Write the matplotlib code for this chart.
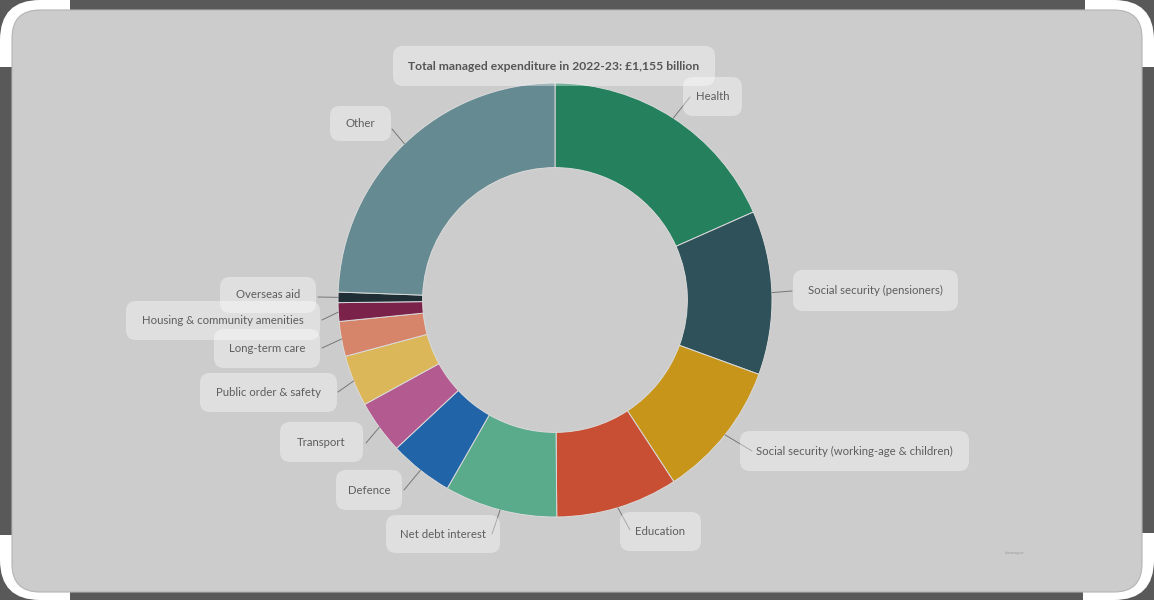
import numpy as np
import matplotlib
matplotlib.use("Agg")
import matplotlib.pyplot as plt
from matplotlib.patches import FancyBboxPatch, Rectangle, ConnectionPatch

plt.rcParams['font.family'] = ['Lato', 'DejaVu Sans']

# ---------------- data (GBP billion) ----------------
title = "Total managed expenditure in 2022-23: £1,155 billion"
categories = [
    "Health",
    "Social security (pensioners)",
    "Social security (working-age & children)",
    "Education",
    "Net debt interest",
    "Defence",
    "Transport",
    "Public order & safety",
    "Long-term care",
    "Housing & community amenities",
    "Overseas aid",
    "Other",
]
values = [212, 141, 118, 105, 97, 55, 46, 44, 30, 16, 9, 282]
colors = [
    "#25805e", "#2f525a", "#c8951b", "#c84f33", "#5aab8b", "#2264a8",
    "#b35a90", "#dcb75a", "#d7856a", "#7a2249", "#1f2e34", "#668a91",
]

# ---------------- layout (pixel coordinates, y down) ----------------
W, H = 1154, 600
CX, CY, R = 555, 300, 217
# label boxes: (x0, y0, x1, y1)
boxes = {
    "Health": (683, 77, 742, 116),
    "Social security (pensioners)": (793, 270, 958, 311),
    "Social security (working-age & children)": (740, 431, 969, 471),
    "Education": (620, 512, 701, 551),
    "Net debt interest": (386, 515, 500, 553),
    "Defence": (336, 470, 402, 510),
    "Transport": (280, 422, 363, 462),
    "Public order & safety": (200, 373, 337, 412),
    "Long-term care": (214, 329, 320, 368),
    "Housing & community amenities": (126, 301, 320, 340),
    "Overseas aid": (220, 277, 316, 313),
    "Other": (330, 106, 391, 141),
}
# leader-line end point near each label
leader_end = {
    "Health": (690, 97),
    "Social security (pensioners)": (792, 291),
    "Social security (working-age & children)": (752, 451),
    "Education": (630, 530),
    "Net debt interest": (492, 534),
    "Defence": (404, 490),
    "Transport": (366, 443),
    "Public order & safety": (338, 392),
    "Long-term care": (322, 348),
    "Housing & community amenities": (322, 320),
    "Overseas aid": (318, 297),
    "Other": (392, 129),
}
title_box = (393, 46, 715, 86)

fig = plt.figure(figsize=(W / 100, H / 100), dpi=100)
fig.patch.set_facecolor("#595959")

# background / frame axes
ax_bg = fig.add_axes([0, 0, 1, 1])
ax_bg.set_xlim(0, W)
ax_bg.set_ylim(H, 0)
ax_bg.axis("off")
ax_bg.add_patch(FancyBboxPatch((0, 0), W, H, boxstyle="round,pad=0,rounding_size=40",
                               fc="white", ec="none"))
dark = "#595959"
ax_bg.add_patch(Rectangle((70, 0), 1015, 10, fc=dark, ec="none"))
ax_bg.add_patch(Rectangle((70, 592), 1013, 8, fc=dark, ec="none"))
ax_bg.add_patch(Rectangle((0, 67), 12, 468, fc=dark, ec="none"))
ax_bg.add_patch(Rectangle((1142, 67), 12, 466, fc=dark, ec="none"))
ax_bg.add_patch(FancyBboxPatch((12, 10), 1130, 582, boxstyle="round,pad=0,rounding_size=28",
                               fc="#cccccc", ec="#b4b4b4", lw=0.8))
ax_bg.text(1015, 553, "datawrapper", fontsize=2.5, color="#9a9a9a", ha="center", va="center")

# pie axes
ax_pie = fig.add_axes([(CX - R) / W, (H - CY - R) / H, 2 * R / W, 2 * R / H])
wedges, _ = ax_pie.pie(values, colors=colors, startangle=90, counterclock=False,
                       radius=1.0, wedgeprops=dict(width=0.39, edgecolor="#dadada", linewidth=0.7))
ax_pie.set_xlim(-1, 1)
ax_pie.set_ylim(-1, 1)
ax_pie.set_aspect("auto")
ax_pie.axis("off")

# overlay axes for labels
ax_lab = fig.add_axes([0, 0, 1, 1])
ax_lab.set_xlim(0, W)
ax_lab.set_ylim(H, 0)
ax_lab.axis("off")
ax_lab.patch.set_alpha(0)

txt_color = "#5e5e5e"
for w, name in zip(wedges, categories):
    mid = np.deg2rad((w.theta1 + w.theta2) / 2)
    pa = (np.cos(mid), np.sin(mid))
    con = ConnectionPatch(xyA=pa, coordsA=ax_pie.transData,
                          xyB=leader_end[name], coordsB=ax_lab.transData,
                          color="#777777", lw=0.7)
    ax_lab.add_artist(con)
    x0, y0, x1, y1 = boxes[name]
    ax_lab.add_patch(FancyBboxPatch((x0, y0), x1 - x0, y1 - y0,
                                    boxstyle="round,pad=0,rounding_size=10",
                                    fc="white", alpha=0.38, ec="none"))
    ax_lab.text((x0 + x1) / 2, (y0 + y1) / 2, name, fontsize=8.2, color=txt_color,
                ha="center", va="center")

x0, y0, x1, y1 = title_box
ax_lab.add_patch(FancyBboxPatch((x0, y0), x1 - x0, y1 - y0,
                                boxstyle="round,pad=0,rounding_size=10",
                                fc="white", alpha=0.38, ec="none"))
ax_lab.text((x0 + x1) / 2, (y0 + y1) / 2, title, fontsize=8.7, color="#565656",
            fontweight="bold", ha="center", va="center")

fig.savefig("out.png", dpi=100, facecolor=fig.get_facecolor())
